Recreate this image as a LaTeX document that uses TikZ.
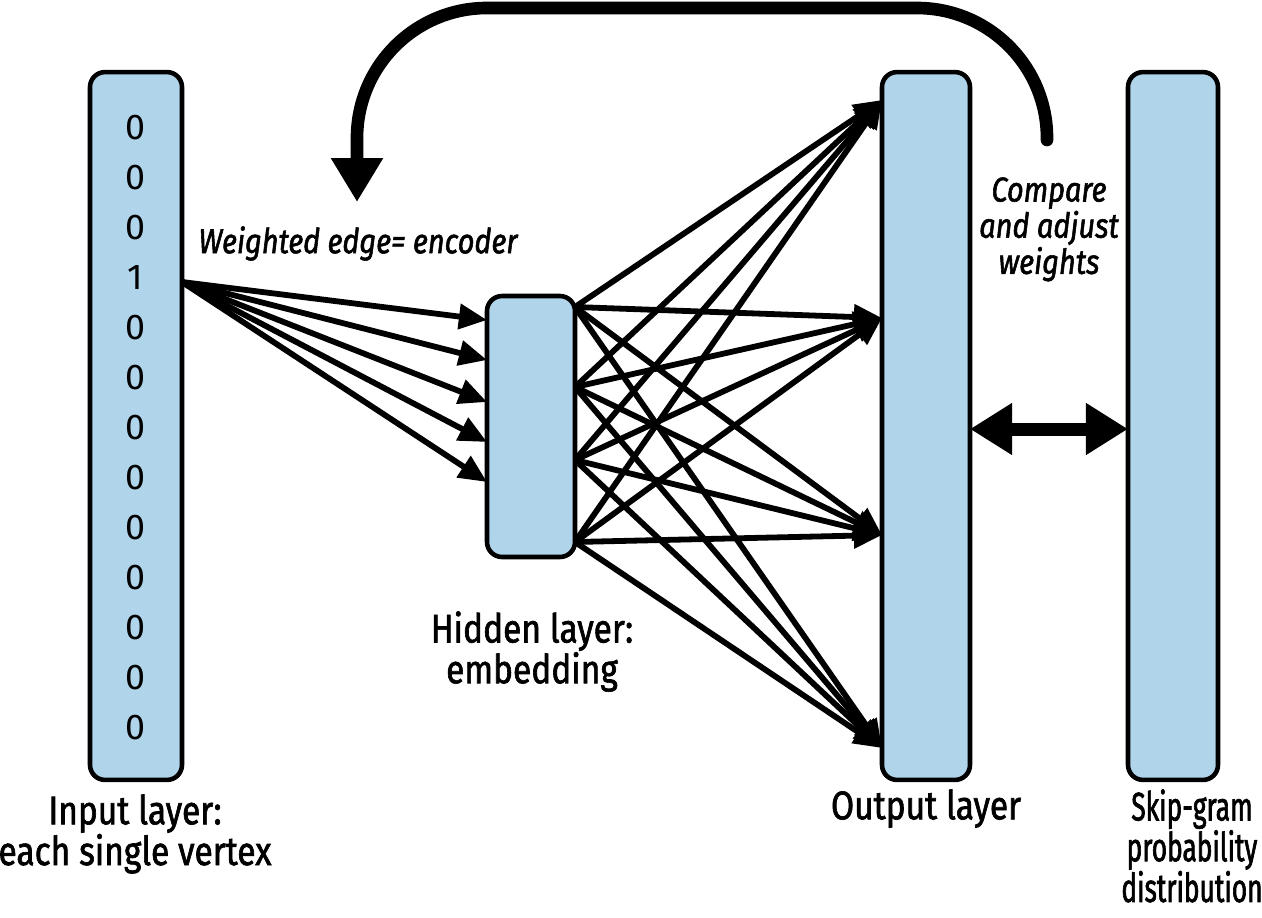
\documentclass[tikz,border=0pt]{standalone}
\usepackage{fontspec}
\setmainfont{Fira Sans}[FakeStretch=0.84, FakeBold=1.6]
\newfontfamily\digitfont{Fira Sans}
\newfontfamily\narrowfont{Fira Sans}[FakeStretch=0.66, FakeBold=1.6]
\usetikzlibrary{arrows.meta}
\definecolor{layerblue}{RGB}{176,212,234}
\begin{document}
\begin{tikzpicture}[x=0.02cm, y=-0.02cm,
  layer/.style={draw=black, line width=2.6pt, fill=layerblue, rounded corners=0.3cm,
                inner sep=0pt, outer sep=0pt},
  digit/.style={font=\digitfont\fontsize{20.4pt}{22pt}\selectfont, inner sep=0pt},
  edgearrow/.style={line width=3.3pt, -{Triangle[length=16pt,width=14pt]}},
  lbl/.style={font=\fontsize{22.7pt}{23.2pt}\selectfont, align=center, inner sep=0pt, anchor=north},
  note/.style={font=\itshape\fontsize{19.6pt}{20.6pt}\selectfont, align=center, inner sep=0pt, anchor=north}
]
\useasboundingbox (0,0) rectangle (1262,917);

% layers
\node[layer, minimum width=1.84cm, minimum height=14.16cm] (inp) at (136,426) {};
\node[layer, minimum width=1.76cm, minimum height=5.22cm] (hid) at (531,426.5) {};
\node[layer, minimum width=1.76cm, minimum height=14.16cm] (outp) at (926,426) {};
\node[layer, minimum width=1.8cm, minimum height=14.16cm] (skip) at (1173,426) {};

% digits
\foreach \d [count=\i from 0] in {0,0,0,1,0,0,0,0,0,0,0,0,0}
  \node[digit] (d\i) at (135,{128+50*\i}) {\d};

% input -> hidden
\coordinate (src) at (inp.east |- 0,282);
\foreach \y in {320,360,402,442,482}
  \draw[edgearrow] (src) -- (hid.west |- 0,\y);

% hidden -> output
\foreach \s in {307,387,460,542}
  \foreach \t in {100,318,535,748}
    \draw[edgearrow] (hid.east |- 0,\s) -- (outp.west |- 0,\t);

% feedback arc
\coordinate (arcstart) at (1047,140);
\coordinate (arcend) at (357,202);
\draw[line width=7.2pt, line cap=round, rounded corners=2.6cm,
      -{Triangle[length=25pt,width=28pt]}]
  (arcstart) -- (1047,8) -- (357,8) -- (arcend);

% compare arrow
\draw[line width=7.4pt, {Triangle[length=24pt,width=28pt]}-{Triangle[length=24pt,width=28pt]}]
  (outp.east |- 0,429) -- (skip.west |- 0,429);

% labels
\node[lbl] (linp) at (135,794) {Input layer:\\each single vertex};
\node[lbl] (lhid) at (532,611) {Hidden layer:\\embedding};
\node[lbl] (lout) at (926,789) {Output layer};
\node[lbl, font=\narrowfont\fontsize{22.7pt}{23.2pt}\selectfont] (lskip) at (1192,789) {Skip-gram\\probability\\distribution};
\node[note] (lweight) at (358,226) {Weighted edge= encoder};
\node[note] (lcomp) at (1049,177) {Compare\\and adjust\\weights};
\end{tikzpicture}
\end{document}
